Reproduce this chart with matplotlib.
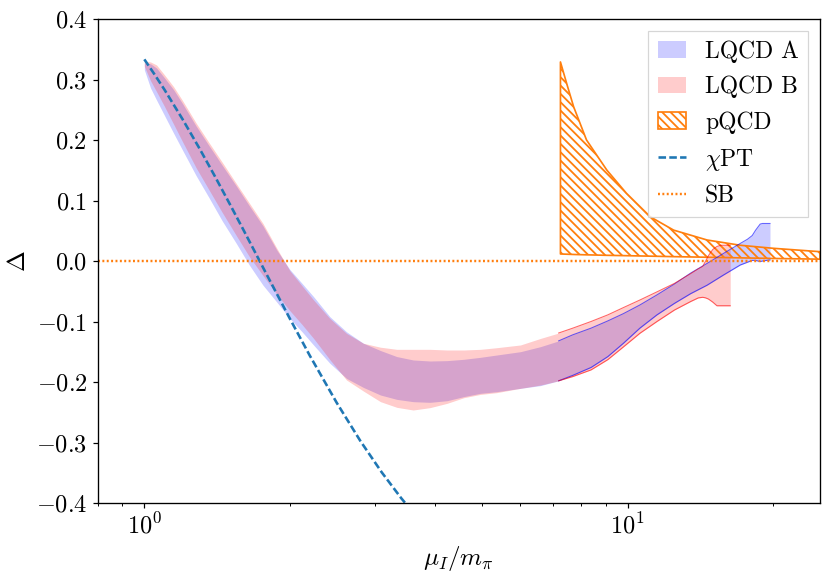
import numpy as np
import matplotlib
matplotlib.use("Agg")
import matplotlib.pyplot as plt

plt.rcParams['font.family'] = ['cmr10', 'DejaVu Serif']
plt.rcParams['mathtext.fontset'] = 'cm'
plt.rcParams['axes.formatter.use_mathtext'] = True
plt.rcParams['axes.unicode_minus'] = True
plt.rcParams['hatch.linewidth'] = 0.75

# ---------------- data ----------------
# LQCD A band
xA = [1.0, 1.03, 1.06, 1.1, 1.15, 1.2, 1.28, 1.36, 1.45, 1.55, 1.65, 1.76, 1.88, 2.0,
      2.12, 2.24, 2.42, 2.62, 2.84, 3.08, 3.33, 3.6, 3.9, 4.23, 4.58, 4.96, 5.36, 6.0,
      6.6, 7.2, 7.7, 8.4, 9.1, 9.8, 10.6, 11.5, 12.5, 13.5, 14.6, 15.8, 17.1, 17.7,
      18.1, 18.4, 18.8, 19.0, 19.7]
hiA = [0.327, 0.326, 0.319, 0.303, 0.283, 0.260, 0.223, 0.191, 0.158, 0.124, 0.091,
       0.058, 0.018, -0.014, -0.037, -0.059, -0.092, -0.117, -0.136, -0.148, -0.158,
       -0.1636, -0.1653, -0.1647, -0.1625, -0.1592, -0.1554, -0.1499, -0.1416, -0.132,
       -0.122, -0.111, -0.099, -0.087, -0.0727, -0.056, -0.038, -0.020, -0.004, 0.0127,
       0.029, 0.036, 0.042, 0.051, 0.061, 0.062, 0.062]
loA = [0.316, 0.286, 0.266, 0.241, 0.211, 0.183, 0.141, 0.105, 0.066, 0.029, -0.007,
       -0.040, -0.068, -0.095, -0.117, -0.139, -0.169, -0.194, -0.209, -0.2215, -0.2287,
       -0.2325, -0.2336, -0.2309, -0.2242, -0.2187, -0.2160, -0.2105, -0.206, -0.198,
       -0.189, -0.176, -0.158, -0.136, -0.111, -0.089, -0.070, -0.054, -0.040, -0.023,
       -0.0066, -0.002, 0.001, 0.001, -0.001, 0.0, 0.0017]

# LQCD B band
xB = [1.0, 1.03, 1.06, 1.1, 1.15, 1.2, 1.28, 1.36, 1.45, 1.55, 1.65, 1.76, 1.88, 2.0,
      2.12, 2.24, 2.42, 2.62, 2.84, 3.08, 3.33, 3.6, 3.9, 4.23, 4.58, 4.96, 5.36, 6.0,
      6.6, 7.2, 7.7, 8.4, 9.1, 9.8, 10.6, 11.5, 12.5, 13.5, 14.0, 14.3, 14.5, 14.7,
      15.0, 15.3, 15.6, 16.3]
hiB = [0.330, 0.329, 0.324, 0.308, 0.288, 0.265, 0.228, 0.196, 0.163, 0.128, 0.0955,
       0.062, 0.021, -0.016, -0.041, -0.0645, -0.095, -0.1196, -0.136, -0.1425, -0.146,
       -0.146, -0.146, -0.1471, -0.1471, -0.146, -0.1433, -0.1388, -0.128, -0.119,
       -0.111, -0.100, -0.089, -0.077, -0.0645, -0.051, -0.037, -0.021, -0.013, -0.009,
       0.0, 0.009, 0.019, 0.024, 0.026, 0.026]
loB = [0.322, 0.298, 0.280, 0.256, 0.226, 0.197, 0.154, 0.118, 0.080, 0.042, 0.007,
       -0.024, -0.055, -0.082, -0.105, -0.128, -0.163, -0.1967, -0.215, -0.2325, -0.2419,
       -0.2463, -0.2424, -0.2353, -0.226, -0.2205, -0.2176, -0.2105, -0.205, -0.198,
       -0.191, -0.180, -0.163, -0.142, -0.1195, -0.100, -0.081, -0.067, -0.061, -0.060,
       -0.061, -0.063, -0.068, -0.074, -0.074, -0.074]

# pQCD band
xP = [7.26, 7.5, 7.73, 8.22, 9.06, 9.94, 11.14, 12.45, 14.6, 17.1, 20.0, 25.0]
hiP = [0.329, 0.290, 0.255, 0.200, 0.150, 0.112, 0.073, 0.051, 0.0347, 0.026, 0.021, 0.0154]
loP = [0.0116, 0.0112, 0.0108, 0.0102, 0.0094, 0.0088, 0.0080, 0.0072, 0.0062, 0.0052,
       0.0042, 0.0030]

# chiPT curve
xC = [1.0, 1.05, 1.1, 1.2, 1.3, 1.4, 1.5, 1.6, 1.8, 2.0, 2.2, 2.5, 2.8, 3.1, 3.4, 3.6]
yC = [0.3333, 0.3083, 0.2835, 0.2342, 0.1862, 0.1398, 0.0952, 0.0528, -0.0256,
      -0.0952, -0.1565, -0.2342, -0.2977, -0.3495, -0.3920, -0.4160]

# SB limit
xS = [0.8, 25.0]
yS = [0.0, 0.0]

yticks = [-0.4, -0.3, -0.2, -0.1, 0.0, 0.1, 0.2, 0.3, 0.4]

# ---------------- plot ----------------
DPI = 175
fig = plt.figure(figsize=(830 / DPI, 577 / DPI), dpi=DPI)
ax = fig.add_axes([97.5 / 830, 1 - 503 / 577, (820 - 97.5) / 830, (503 - 19) / 577])

ax.fill_between(xA, loA, hiA, color='blue', alpha=0.2, lw=0, label='LQCD A')
ax.fill_between(xB, loB, hiB, color='red', alpha=0.2, lw=0, label='LQCD B')

# visible edge lines on the right-hand part of the bands
xa = np.array(xA); xb = np.array(xB)
ma = xa >= 7.2
mb = xb >= 7.2
ax.plot(xa[ma], np.array(hiA)[ma], color='blue', lw=0.45, alpha=0.6)
ax.plot(xa[ma], np.array(loA)[ma], color='blue', lw=0.45, alpha=0.6)
ax.plot(xb[mb], np.array(hiB)[mb], color='red', lw=0.45, alpha=0.6)
ax.plot(xb[mb], np.array(loB)[mb], color='red', lw=0.45, alpha=0.6)

ax.fill_between(xP, loP, hiP, facecolor='none', edgecolor='#ff7f0e', hatch='\\' * 7,
                lw=0.7, label='pQCD')
ax.plot(xC, yC, color='#1f77b4', lw=1.07, linestyle=(0, (2.9, 1.25)), label=r'$\chi$PT')
ax.plot(xS, yS, color='#ff7f0e', lw=1.0, linestyle=(0, (0.8, 1.0)), label='SB')

ax.set_xscale('log')
ax.set_xlim(0.8, 25)
ax.set_ylim(-0.4, 0.4)
ax.set_yticks(yticks)
for s in ax.spines.values():
    s.set_linewidth(0.55)
ax.tick_params(which='major', labelsize=10, length=2.2, width=0.5, pad=2.0)
ax.tick_params(which='minor', length=1.3, width=0.4)
ax.set_xlabel(r'$\mu_I/m_\pi$', fontsize=10.3, labelpad=2.3)
ax.set_ylabel(r'$\Delta$', fontsize=10.3, labelpad=2.3)

leg = ax.legend(loc='upper right', fontsize=9.7, fancybox=False, edgecolor='0.8',
                handlelength=1.2, labelspacing=0.55)
leg.get_frame().set_linewidth(0.5)

fig.savefig('out.png', dpi=DPI)
